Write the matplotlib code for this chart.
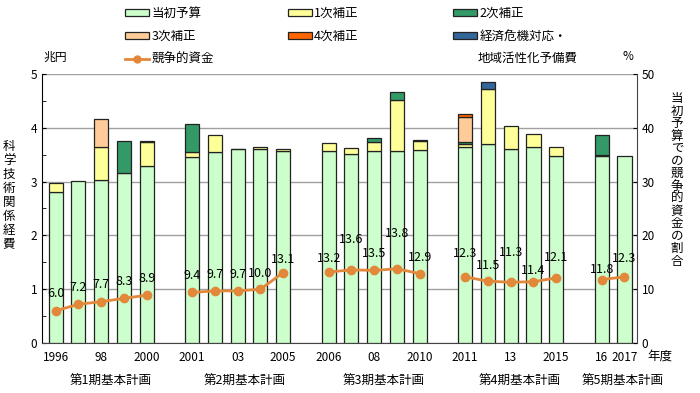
import numpy as np
import matplotlib.pyplot as plt
from matplotlib.patches import Patch
from matplotlib.lines import Line2D
from matplotlib.ticker import MultipleLocator

plt.rcParams['font.family'] = ['Noto Sans CJK JP', 'DejaVu Sans']

# fiscal years, grouped by basic plan (a gap slot between groups)
years = [1996, 1997, 1998, 1999, 2000,
         2001, 2002, 2003, 2004, 2005,
         2006, 2007, 2008, 2009, 2010,
         2011, 2012, 2013, 2014, 2015,
         2016, 2017]
group = [0]*5 + [1]*5 + [2]*5 + [3]*5 + [4]*2
tick_text = {1996: '1996', 1998: '98', 2000: '2000', 2001: '2001', 2003: '03',
             2005: '2005', 2006: '2006', 2008: '08', 2010: '2010', 2011: '2011',
             2013: '13', 2015: '2015', 2016: '16', 2017: '2017'}
plans = ['第1期基本計画', '第2期基本計画', '第3期基本計画', '第4期基本計画', '第5期基本計画']

# 兆円
initial = [2.81, 3.01, 3.03, 3.15, 3.29, 3.46, 3.54, 3.60, 3.60, 3.57, 3.57,
           3.51, 3.57, 3.57, 3.59, 3.65, 3.69, 3.60, 3.64, 3.47, 3.47, 3.48]
supp1 = [0.16, 0, 0.62, 0, 0.44, 0.08, 0.33, 0.01, 0.04, 0.04, 0.15,
         0.11, 0.17, 0.94, 0.16, 0.04, 1.03, 0.44, 0.24, 0.17, 0.02, 0]
supp2 = [0, 0, 0, 0.61, 0.03, 0.53, 0, 0, 0, 0, 0,
         0, 0.06, 0.16, 0.03, 0.05, 0, 0, 0, 0, 0.38, 0]
supp3 = [0, 0, 0.51, 0, 0, 0, 0, 0, 0, 0, 0,
         0, 0, 0, 0, 0.45, 0, 0, 0, 0, 0, 0]
supp4 = [0]*15 + [0.06] + [0]*6
reserve = [0]*16 + [0.12] + [0]*5
# 競争的資金の割合 (%)
ratio = [6.0, 7.2, 7.7, 8.3, 8.9, 9.4, 9.7, 9.7, 10.0, 13.1, 13.2,
         13.6, 13.5, 13.8, 12.9, 12.3, 11.5, 11.3, 11.4, 12.1, 11.8, 12.3]

# vertical offsets of the value labels (pixels above the point)
lab_dy = [17, 17, 17, 17, 17, 17, 16, 16, 16, 13, 14,
          30, 17, 35, 16, 23, 16, 30, 11, 20, 10, 18]

x = np.array([i + g for i, g in enumerate(group)], dtype=float)

fig = plt.figure(figsize=(7, 3.93), dpi=100)
ax = fig.add_axes([0.06, 0.127, 0.85, 0.685])

names = ['当初予算', '1次補正', '2次補正', '3次補正', '4次補正', '経済危機対応・']
colors = ['#CCFFCC', '#FFFF99', '#339966', '#FFCC99', '#FF6600', '#336699']
series = [initial, supp1, supp2, supp3, supp4, reserve]
bottom = np.zeros(len(years))
for vals, c in zip(series, colors):
    v = np.array(vals)
    m = v > 0
    ax.bar(x[m], v[m], 0.62, bottom=bottom[m], color=c, edgecolor='#222222',
           linewidth=0.9, zorder=3)
    bottom += v

ax.set_xlim(-0.6, 25.55)
ax.set_ylim(0, 5)
ax.yaxis.set_major_locator(MultipleLocator(1))
ax.yaxis.set_minor_locator(MultipleLocator(0.5))
ax.tick_params(axis='y', which='both', direction='in', labelsize=8.5, length=3)
ax.grid(axis='y', color='#A0A0A0', linewidth=1, zorder=0)
ax.spines['top'].set_visible(False)
ax.spines['right'].set_visible(False)
ax.spines['bottom'].set_color('#444444')
ax.set_xticks([x[years.index(y)] for y in tick_text])
ax.set_xticklabels(list(tick_text.values()), fontsize=8.5)
ax.tick_params(axis='x', length=0, pad=6)

ax2 = ax.twinx()
ax2.set_ylim(0, 50)
ax2.yaxis.set_major_locator(MultipleLocator(10))
ax2.tick_params(axis='y', direction='in', length=3, labelsize=8.5)
for s in ['top', 'left', 'bottom']:
    ax2.spines[s].set_visible(False)
ax2.spines['right'].set_color('#444444')

col = '#E3883A'
for g in range(5):
    m = np.array(group) == g
    ax2.plot(x[m], np.array(ratio)[m], color=col, linewidth=2, marker='o',
             markersize=6, zorder=5)
for xi, r, dy in zip(x, ratio, lab_dy):
    ax2.annotate(f'{r:.1f}', (xi, r), xytext=(0, dy * 0.72), textcoords='offset points',
                 ha='center', va='center', fontsize=9, zorder=6)

# axis titles
fig.text(55 / 700, 1 - 57 / 393, '兆円', ha='center', va='center', fontsize=8.5)
fig.text(628 / 700, 1 - 57 / 393, '%', ha='center', va='center', fontsize=8.5)
fig.text(660 / 700, 1 - 356 / 393, '年度', ha='center', va='center', fontsize=9)
fig.text(9 / 700, 1 - 195 / 393, '\n'.join('科学技術関係経費'), ha='center', va='center',
         fontsize=9, linespacing=1.1)
fig.text(677 / 700, 1 - 180 / 393, '\n'.join('当初予算での競争的資金の割合'), ha='center',
         va='center', fontsize=9, linespacing=0.95)

# plan labels under the year labels
plan_x = [2.4, 8.3, 14.4, 20.4, 24.9]
for px, p in zip(plan_x, plans):
    ax.text(px, 1 - 381 / 393, p, transform=ax.get_xaxis_transform().__class__(
        ax.transData, fig.transFigure), ha='center', va='center', fontsize=9)

# legend, three columns placed separately
def patch(c):
    return Patch(facecolor=c, edgecolor='#222222', linewidth=0.9)

cols = [
    ([patch(colors[0]), patch(colors[3]),
      Line2D([], [], color=col, linewidth=2, marker='o', markersize=5)],
     [names[0], names[3], '競争的資金'], 125),
    ([patch(colors[1]), patch(colors[4])], [names[1], names[4]], 288),
    ([patch(colors[2]), patch(colors[5])], [names[2], names[5]], 453),
]
for handles, labels, px in cols:
    fig.legend(handles, labels, loc='upper left', bbox_to_anchor=(px / 700, 1 - 7 / 393),
               frameon=False, fontsize=9, handlelength=1.9, handleheight=0.5,
               handletextpad=0.2, labelspacing=0.8, borderpad=0, borderaxespad=0)
fig.text(478 / 700, 1 - 58 / 393, '地域活性化予備費', ha='left', va='center', fontsize=9)

fig.savefig('out.png', dpi=100)
